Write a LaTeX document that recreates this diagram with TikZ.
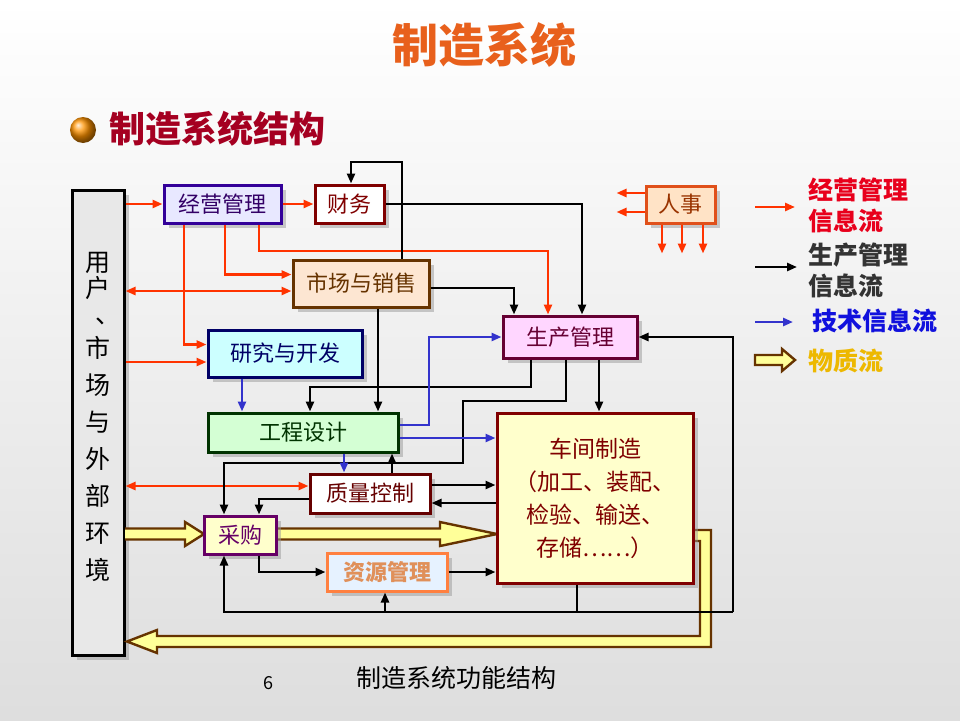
\documentclass[tikz,border=0pt]{standalone}
\usepackage{fontspec}
\setmainfont{Noto Sans CJK SC}
\usetikzlibrary{arrows.meta,shadows,calc}
\definecolor{rflow}{HTML}{FF3300}
\definecolor{bflow}{HTML}{3333CC}
\definecolor{matF}{HTML}{FFFF99}
\definecolor{matB}{HTML}{663300}
\definecolor{titleC}{HTML}{E8601C}
\definecolor{subC}{HTML}{A50021}
\definecolor{jyB}{HTML}{330099}\definecolor{jyF}{HTML}{E8E8FF}\definecolor{jyT}{HTML}{330066}
\definecolor{cwB}{HTML}{800000}
\definecolor{scB}{HTML}{663300}\definecolor{scF}{HTML}{FDE6D2}
\definecolor{yfB}{HTML}{000066}\definecolor{yfF}{HTML}{CCFFFF}
\definecolor{sgB}{HTML}{660033}\definecolor{sgF}{HTML}{FFD6FF}
\definecolor{rsB}{HTML}{E0501A}\definecolor{rsF}{HTML}{FFE3C6}\definecolor{rsT}{HTML}{993300}
\definecolor{gcB}{HTML}{003300}\definecolor{gcF}{HTML}{D4FFD4}
\definecolor{zlB}{HTML}{660000}
\definecolor{cgB}{HTML}{660066}\definecolor{cgF}{HTML}{FFFFCC}
\definecolor{zyB}{HTML}{FF8040}\definecolor{zyF}{HTML}{E6F2FF}\definecolor{zyT}{HTML}{E0905A}
\definecolor{cjB}{HTML}{800000}\definecolor{cjF}{HTML}{FFFFCC}
\definecolor{legR}{HTML}{E8001C}\definecolor{legK}{HTML}{333333}\definecolor{legU}{HTML}{1111DD}\definecolor{legY}{HTML}{EDB800}
\begin{document}
\begin{tikzpicture}[x=1pt,y=-1pt,
  box/.style={draw, line width=3pt, inner sep=0pt, align=center,
    font=\fontsize{22}{26}\selectfont,
    drop shadow={shadow xshift=5pt,shadow yshift=-5pt,fill=black!40}},
  arr/.style={-{Triangle[length=10pt,width=8pt]}},
  rline/.style={draw=rflow, line width=2.8pt, arr},
  bline/.style={draw=black, line width=2.8pt, arr},
  uline/.style={draw=bflow, line width=2.8pt, arr},
  mat/.style={fill=matF, draw=matB, line width=2.4pt, line join=miter},
  legtext/.style={anchor=west, align=left, font=\fontsize{25}{31}\selectfont\bfseries}
]
\useasboundingbox (0,0) rectangle (960,720);
\shade[top color=white, bottom color=black!13] (0,0) rectangle (960,720);

% titles
\node[font=\fontsize{46}{50}\selectfont\bfseries, text=titleC] (title) at (484,45) {制造系统};
\shade[ball color=orange!85!yellow] (83,130) circle (13pt);
\node[anchor=west, font=\fontsize{36}{40}\selectfont\bfseries, text=subC] (sub) at (106,129) {制造系统结构};

% environment box
\node[draw=black, line width=3pt, fill=black!9, minimum width=52pt, minimum height=465pt,
  drop shadow={shadow xshift=5pt,shadow yshift=-5pt,fill=black!40}] (env) at (98,422.5) {};
\node[anchor=north, inner sep=0pt, align=center, font=\fontsize{25}{37}\selectfont] (envtext) at (98,245.1)
  {\strut 用\\[-10.5pt]户\\[-11.5pt]\kern20pt 、\\[-2.5pt]市\\场\\与\\外\\部\\环\\境};

% material flow (thick arrows)
\path[mat] (125,528.5) -- (185,528.5) -- (185,522) -- (204,534) -- (185,546) -- (185,539.5) -- (125,539.5);
\path[mat] (274,528.5) -- (440,528.5) -- (440,522) -- (497,534) -- (440,546) -- (440,539.5) -- (274,539.5);
\path[mat] (690,530) -- (711,530) -- (711,647) -- (157,647) -- (157,653) -- (127,641.5) -- (157,630) -- (157,636) -- (700,636) -- (700,541) -- (690,541);

% boxes
\node[box, draw=jyB, fill=jyF, text=jyT, minimum width=117pt, minimum height=38pt] (jy) at (222.5,204) {经营管理};
\node[box, draw=cwB, fill=white, text=cwB, minimum width=69pt, minimum height=38pt] (cw) at (349.5,204) {财务};
\node[box, draw=scB, fill=scF, text=scB, minimum width=136pt, minimum height=47pt] (sc) at (361,283.5) {市场与销售};
\node[box, draw=yfB, fill=yfF, text=yfB, minimum width=154pt, minimum height=47pt] (yf) at (285,353.5) {研究与开发};
\node[box, draw=sgB, fill=sgF, text=sgB, minimum width=134pt, minimum height=42pt] (sg) at (570,337) {生产管理};
\node[box, draw=rsB, fill=rsF, text=rsT, minimum width=69pt, minimum height=37pt] (rs) at (680.5,204.5) {人事};
\node[box, draw=gcB, fill=gcF, text=gcB, minimum width=190pt, minimum height=39pt] (gc) at (303,432.5) {工程设计};
\node[box, draw=zlB, fill=white, text=zlB, minimum width=120pt, minimum height=39pt] (zl) at (370,493.5) {质量控制};
\node[box, draw=cgB, fill=cgF, text=cgB, minimum width=72pt, minimum height=38pt] (cg) at (240,535) {采购};
\node[box, draw=zyB, fill=zyF, text=zyT, minimum width=120pt, minimum height=38pt,
  font=\fontsize{22}{26}\selectfont\bfseries] (zy) at (387,572) {资源管理};
\node[box, draw=cjB, fill=cjF, text=cjB, minimum width=196pt, minimum height=170pt,
  font=\fontsize{23}{33}\selectfont] (cj) at (595,498) {车间制造\\（加工、装配、\\检验、输送、\\存储……）};

% helper coordinates
\coordinate (x184) at (184,0);
\coordinate (x225) at (225,0);
\coordinate (x259) at (259,0);
\coordinate (k5) at (548,251);
\coordinate (p6) at ([yshift=-7.5pt]sc.west);
\coordinate (p3) at ([yshift=9pt]yf.west);
\coordinate (p4) at ([yshift=9pt]sc.west);
\coordinate (p7) at ([yshift=-8.5pt]yf.west);
\coordinate (p8) at ([yshift=7.5pt]zl.west);
\coordinate (x402) at (402,0);
\coordinate (k10) at (351,162);
\coordinate (x582) at (582,0);
\coordinate (x514) at (514,0);
\coordinate (p12) at ([yshift=-4.5pt]sc.east);
\coordinate (x378) at (378,0);
\coordinate (x531) at (531,0);
\coordinate (k14) at (310,387);
\coordinate (x566) at (566,0);
\coordinate (k15b) at (463,401);
\coordinate (k15c) at (224,463);
\coordinate (x599) at (599,0);
\coordinate (k17) at (733,612);
\coordinate (x224) at (224,0);
\coordinate (x577) at (577,0);
\coordinate (x392) at (392,0);
\coordinate (p19) at ([yshift=-5.5pt]zl.west);
\coordinate (p20) at ([yshift=8.5pt]zl.east);
\coordinate (p21) at ([yshift=-9.5pt]zl.east);
\coordinate (x242) at (242,0);
\coordinate (x429) at (429,0);
\coordinate (p25) at ([yshift=7.5pt]gc.east);
\coordinate (p26) at ([yshift=-5.5pt]gc.east);
\coordinate (x344) at (344,0);
\coordinate (x385) at (385,0);

% red: business management information
\draw[rline] (env.east |- jy.west) -- (jy.west);
\draw[rline] (jy.east) -- (cw.west);
\draw[rline] (jy.south -| x184) |- (p3);
\draw[rline] (jy.south -| x225) |- (p4);
\draw[rline] (jy.south -| x259) |- (k5) -- (sg.north -| k5);
\draw[rline, {Triangle[length=10pt,width=8pt]}-{Triangle[length=10pt,width=8pt]}] (env.east |- p6) -- (p6);
\draw[rline] (env.east |- p7) -- (p7);
\draw[rline, {Triangle[length=10pt,width=8pt]}-{Triangle[length=10pt,width=8pt]}] (env.east |- p8) -- (p8);
\draw[rline] ([yshift=11.5pt]rs.west) -- ++(-28,0) coordinate (rsl1);
\draw[rline] ([yshift=-7.5pt]rs.west) -- ++(-28,0) coordinate (rsl2);
\draw[rline] ([xshift=-18.5pt]rs.south) -- ++(0,29) coordinate (rsd1);
\draw[rline] ([xshift=1.5pt]rs.south) -- ++(0,29) coordinate (rsd2);
\draw[rline] ([xshift=22.5pt]rs.south) -- ++(0,29) coordinate (rsd3);

% black: production management information
\draw[bline] (sc.north -| x402) |- (k10) -- (cw.north -| k10);
\draw[bline] (cw.east) -| (sg.north -| x582);
\draw[bline] (p12) -| (sg.north -| x514);
\draw[bline] (sc.south -| x378) -- (gc.north -| x378);
\draw[bline] (sg.south -| x531) |- (k14) -- (gc.north -| k14);
\draw[bline] (sg.south -| x566) |- (k15b) |- (k15c) -- (cg.north -| k15c);
\draw[bline] (sg.south -| x599) -- (cj.north -| x599);
\draw[bline] (k17) |- (sg.east);
\draw[bline] (k17) -| (cg.south -| x224);
\draw[bline] (k17 -| x385) -- (zy.south -| x385);
\draw[draw=black, line width=2.8pt] (cj.south -| x577) -- (k17 -| x577);
\draw[bline] (zl.north -| x392) -- (gc.south -| x392);
\draw[bline] (p19) -| (cg.north -| x259);
\draw[bline] (p20) -- (cj.west |- p20);
\draw[bline] (cj.west |- p21) -- (p21);
\draw[bline] (cg.south -| x259) |- (zy.west);
\draw[bline] (zy.east) -- (cj.west |- zy.east);

% blue: technical information
\draw[uline] (yf.south -| x242) -- (gc.north -| x242);
\draw[uline] (p25) -| (sg.west -| x429) -- (sg.west);
\draw[uline] (p26) -- (cj.west |- p26);
\draw[uline] (gc.south -| x344) -- (zl.north -| x344);

% legend
\coordinate (l1a) at (755,207); \coordinate (l1b) at (795,207);
\coordinate (l2a) at (755,267); \coordinate (l2b) at (797,267);
\coordinate (l3a) at (755,322); \coordinate (l3b) at (793,322);
\draw[rline] (l1a) -- (l1b);
\draw[bline] (l2a) -- (l2b);
\draw[uline] (l3a) -- (l3b);
\path[mat] (755,355) -- (782,355) -- (782,349) -- (795,360) -- (782,371) -- (782,365) -- (755,365) -- cycle;
\node[legtext, text=legR] (lg1) at (805,205) {经营管理\\信息流};
\node[legtext, text=legK] (lg2) at (805,270.5) {生产管理\\信息流};
\node[legtext, text=legU] (lg3) at (809,321) {技术信息流};
\node[legtext, text=legY] (lg4) at (805,361) {物质流};

% bottom
\node[font=\fontsize{18}{20}\selectfont] (pg) at (268,683) {6};
\node[font=\fontsize{25}{28}\selectfont] (cap) at (456,678) {制造系统功能结构};
\end{tikzpicture}
\end{document}
